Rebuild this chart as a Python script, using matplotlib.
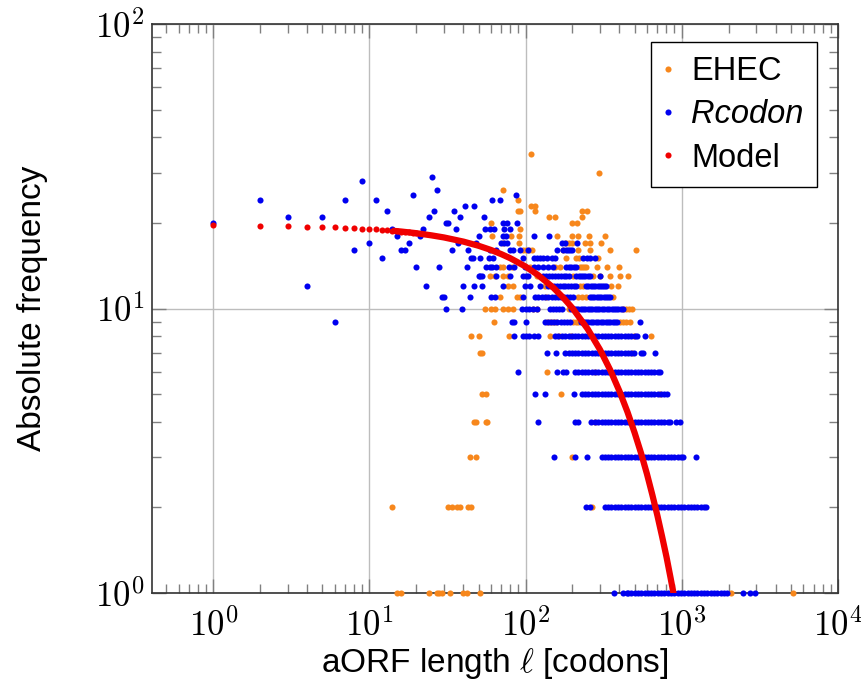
import matplotlib
matplotlib.use('Agg')
import matplotlib.pyplot as plt
from matplotlib.ticker import NullFormatter, LogLocator

plt.rcParams['font.family'] = ['Liberation Sans', 'DejaVu Sans']
plt.rcParams['mathtext.fontset'] = 'cm'

# absolute frequency -> aORF lengths (codons)
ehec = {
    1: [15, 16, 24, 27, 28, 29, 33, 40, 42, 51, 2080, 5200],
    2: [14, 32, 34, 36.5, 38, 42.5, 45, 266],
    3: [44, 48, 199],
    4: [47, 48, 56, 57, 278],
    5: [53, 56, 170, 727],
    6: [138, 278],
    7: [51, 53, 479],
    8: [45, 50, 78, 144, 165, 197, 493, 634],
    9: [63, 137, 144, 150, 157, 202, 210, 218, 405, 421, 440, 464],
    10: [55, 60, 64, 72, 77, 83, 112, 119, 190, 424, 442, 460, 480],
    11: [69, 88, 92, 135, 218, 230, 245, 364],
    12: [77, 83, 134, 223, 234, 354, 390],
    13: [59, 64, 72, 77, 119, 202, 271, 300, 346, 401, 455],
    14: [69, 72, 82, 107, 155, 166, 222, 229, 237, 245, 285, 333, 396],
    15: [182, 210, 220, 290],
    16: [97, 101, 106, 110, 173, 218, 258, 346, 510],
    17: [72, 91, 182, 191, 200, 240, 258, 306],
    18: [61, 81, 91, 159, 200, 216, 257, 322],
    19: [92],
    20: [60, 200, 215],
    21: [141, 155, 230],
    22: [89, 92, 115, 230, 248],
    23: [109, 115],
    24: [89],
    26: [72],
    30: [295],
    35: [108],
}

rcodon = {
    1: [367, 419, 445, 453, 476, 500, 525, 551, 579, 608, 638, 670, 703, 738,
        775, 814, 855, 898, 943, 990, 1040, 1092, 1146, 1203, 1263, 1326,
        1393, 1462, 1535, 1612, 1693, 1778, 1866, 1940, 2470, 2760, 2940],
    2: [244, 260, 325, 338, 355, 373, 392, 411, 432, 453, 476, 500, 525, 551,
        579, 608, 638, 670, 703, 738, 775, 814, 855, 898, 943, 990, 1040,
        1092, 1146, 1203, 1263, 1326, 1393, 1440],
    3: [152, 209, 246, 307, 322, 338, 355, 373, 392, 411, 432, 453, 476, 500,
        525, 551, 579, 608, 638, 670, 703, 738, 775, 814, 855, 898, 943, 990,
        1025, 1245],
    4: [121, 207, 217, 262, 278, 292, 307, 322, 338, 355, 373, 392, 411, 432,
        453, 476, 500, 525, 551, 579, 608, 638, 670, 703, 738, 775, 814, 843,
        916, 970],
    5: [115, 133, 204, 230, 240, 252, 265, 278, 292, 307, 322, 338, 355, 373,
        392, 411, 432, 453, 476, 500, 525, 551, 579, 608, 638, 670, 703, 738,
        775, 810],
    6: [90, 159, 173, 182, 207, 218, 229, 240, 252, 265, 278, 292, 307, 322,
        338, 355, 373, 392, 411, 432, 453, 476, 500, 525, 551, 579, 608, 638,
        670, 703, 727],
    7: [137, 156, 179, 189, 198, 208, 218, 229, 240, 252, 265, 278, 292, 307,
        322, 338, 355, 373, 392, 411, 432, 453, 476, 493, 547, 567, 676],
    8: [84, 96, 101, 106, 113, 120, 155, 162, 171, 180, 189, 198, 208, 218,
        229, 240, 252, 265, 278, 292, 307, 322, 338, 355, 373, 392, 411, 432,
        453, 476, 500, 515, 583],
    9: [6, 82, 85, 100, 134, 140, 146, 152, 160, 168, 176, 184, 193, 228, 236,
        244, 252, 262, 272, 282, 292, 303, 314, 326, 338, 350, 362, 375, 388,
        545],
    10: [31, 39, 95, 101, 106, 112, 118, 143, 150, 157, 164, 172, 197, 204,
         211, 218, 226, 234, 242, 250, 259, 268, 277, 287, 297, 308, 320, 332,
         344, 356, 368, 381, 394, 407, 421],
    11: [29, 30, 44, 60, 64, 97, 115, 121, 127, 134, 140, 147, 154, 161, 168,
         176, 184, 193, 202, 258, 266, 275, 285, 295, 305, 316, 327, 338, 346],
    12: [4, 23, 40, 47, 53, 72, 99, 107, 124, 140, 146, 152, 159, 166, 173,
         180, 188, 196, 204, 212, 245, 253, 262, 271, 280, 290, 300, 310, 320,
         330],
    13: [50, 51, 53, 65, 80, 97, 101, 104, 130, 136, 142, 148, 155, 162, 169,
         176, 183, 190, 212, 219, 226, 234, 242, 250, 258, 300],
    14: [20, 28, 42, 56, 59, 61, 65, 78, 85, 99, 113, 121, 130, 140, 151, 182,
         189, 196, 204, 212],
    15: [12, 45, 46, 51, 58, 62, 97, 113, 119, 124, 130, 137, 148, 155, 234,
         248, 258, 278],
    16: [8, 16, 17, 34, 43, 59, 65, 80, 83, 92, 103, 159, 175, 181, 187, 193,
         200],
    17: [10, 18, 37, 48, 70, 73, 76, 172, 178, 213],
    18: [15, 21, 50, 72, 75, 113, 141],
    19: [14, 22, 36, 55, 59, 63, 73, 80],
    20: [1, 31, 32, 72, 76, 88],
    21: [3, 5, 24, 38, 54],
    22: [13, 26, 35],
    23: [41, 47],
    24: [2, 7, 11, 61, 69],
    25: [19, 87],
    26: [27],
    28: [9],
    29: [25],
}

model_len = [1, 2, 3, 4, 5, 6, 7, 8, 9, 10, 11, 12, 13, 14, 15, 16, 17, 18,
             19, 20, 25, 30, 40, 50, 60, 70, 80, 100, 120, 150, 175, 200, 250,
             300, 350, 400, 450, 500, 550, 600, 650, 700, 750, 800, 850, 900]
model_freq = [19.6, 19.53, 19.47, 19.4, 19.34, 19.27, 19.21, 19.15, 19.08,
              19.02, 18.96, 18.89, 18.83, 18.77, 18.71, 18.65, 18.58, 18.52,
              18.46, 18.4, 18.08, 17.78, 17.19, 16.62, 16.07, 15.53, 15.02,
              14.05, 13.13, 11.87, 10.9, 10.03, 8.48, 7.17, 6.06, 5.12, 4.33,
              3.66, 3.1, 2.62, 2.21, 1.87, 1.58, 1.34, 1.13, 0.957]

x_ticks = [1, 10, 100, 1000, 10000]
y_ticks = [1, 10, 100]

c_ehec = '#f7871c'
c_rcodon = '#0000f0'
c_model = '#f00000'
ms = 4.4


def flat(d):
    xs, ys = [], []
    for f, ls in d.items():
        xs += ls
        ys += [f] * len(ls)
    return xs, ys


fig = plt.figure(figsize=(8.62, 6.89), dpi=100)
ax = fig.add_axes([0.176, 0.1393, 0.7958, 0.8258])

ex, ey = flat(ehec)
rx, ry = flat(rcodon)
ax.plot(ex, ey, 'o', ms=ms, mew=0, color=c_ehec, label='EHEC',
        clip_on=False, zorder=3)
ax.plot(rx, ry, 'o', ms=ms, mew=0, color=c_rcodon, label='Rcodon',
        clip_on=False, zorder=3.1)

# model: single dots for short lengths, dense part as a thick line
dots_x = [l for l in model_len if l <= 20]
dots_y = model_freq[:len(dots_x)]
line_x = [l for l in model_len if l >= 14]
line_y = model_freq[len(model_len) - len(line_x):]
ax.plot(dots_x, dots_y, 'o', ms=ms, mew=0, color=c_model, label='Model',
        zorder=4)
ax.plot(line_x, line_y, '-', lw=4.5, color=c_model, solid_capstyle='butt',
        zorder=4)

ax.set_xscale('log')
ax.set_yscale('log')
ax.set_xlim(0.403, 1e4)
ax.set_ylim(1, 100)

ax.set_xticks(x_ticks)
ax.set_xticklabels([r'$10^{%d}$' % i for i in range(len(x_ticks))])
ax.set_yticks(y_ticks)
ax.set_yticklabels([r'$10^{%d}$' % i for i in range(len(y_ticks))])
ax.xaxis.set_minor_locator(LogLocator(base=10, subs=range(2, 10), numticks=20))
ax.yaxis.set_minor_locator(LogLocator(base=10, subs=range(2, 10), numticks=20))
ax.xaxis.set_minor_formatter(NullFormatter())
ax.yaxis.set_minor_formatter(NullFormatter())

ax.tick_params(which='both', direction='in', top=True, right=True,
               color='#808080', width=1.0, labelsize=25)
ax.tick_params(axis='x', which='major', pad=11)
ax.tick_params(axis='y', which='major', pad=5)
ax.tick_params(which='major', length=10)
ax.tick_params(which='minor', length=6.5)

ax.grid(True, which='major', color='#bdbdbd', lw=1.0)
ax.set_axisbelow(True)
for s in ax.spines.values():
    s.set_color('#333333')
    s.set_linewidth(1.2)

ax.set_xlabel(r'aORF length $\ell$ [codons]', fontsize=24, labelpad=2)
ax.set_ylabel('Absolute frequency', fontsize=24, labelpad=34)

leg = ax.legend(loc='upper right', bbox_to_anchor=(0.970, 0.968),
                borderaxespad=0, fontsize=23.5, frameon=True, fancybox=False,
                edgecolor='black', framealpha=1, handlelength=0.2,
                handletextpad=0.6, labelspacing=0.38, borderpad=0.42)
leg.get_frame().set_linewidth(1.0)
leg.get_texts()[1].set_fontstyle('italic')

fig.savefig('out.png', dpi=100)
